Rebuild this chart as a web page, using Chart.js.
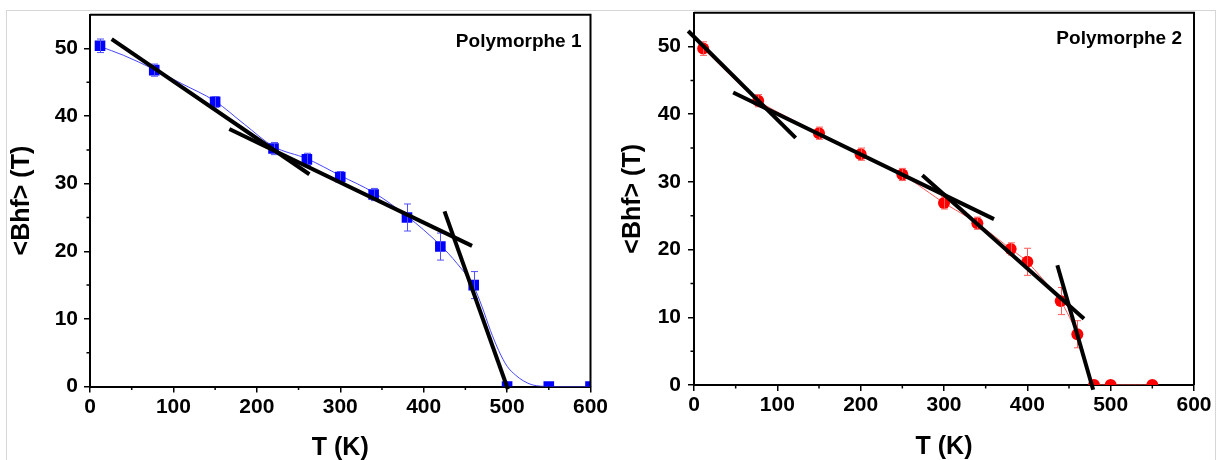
<!DOCTYPE html>
<html><head><meta charset="utf-8">
<script src="https://cdn.jsdelivr.net/npm/chart.js@4.4.1/dist/chart.umd.min.js"></script>
<style>
html,body{margin:0;padding:0;background:#fff;overflow:hidden;width:1220px;height:460px;}
#frame{position:absolute;left:6px;top:10px;width:1208px;height:480px;border:1px solid #d6d6d6;}
.wrap{position:absolute;top:0;width:610px;height:470px;}
#w1{left:0}
#w2{left:610px}
canvas{display:block}
</style></head><body>
<div id="frame"></div>
<div class="wrap" id="w1"><canvas id="c1" width="610" height="470"></canvas></div>
<div class="wrap" id="w2"><canvas id="c2" width="610" height="470"></canvas></div>
<script>
// ---- axis ticks ----
const xTicks = [0, 100, 200, 300, 400, 500, 600];
const xMinor = [50, 150, 250, 350, 450, 550];
const yTicks = [0, 10, 20, 30, 40, 50];
const yMinor = [5, 15, 25, 35, 45];

// ---- Polymorphe 1 ----
const p1T   = [12, 77, 150, 220, 260, 300, 340, 380, 420, 460, 500, 550, 600];
const p1B   = [50.4, 46.8, 42.1, 35.2, 33.6, 31.0, 28.4, 25.0, 20.7, 15.0, 0, 0, 0];
const p1Err = [1.0, 0.9, 0.8, 0.9, 0.9, 0.8, 0.9, 2.0, 2.0, 2.0, 0, 0, 0];
const fit1T = [12, 40, 77, 110, 150, 185, 220, 260, 300, 340, 380, 420, 440, 460, 470, 480, 490, 500, 510, 520, 530, 540, 550, 600];
const fit1B = [50.3, 49.0, 46.9, 44.8, 42.2, 38.8, 35.5, 33.7, 31.2, 28.7, 25.2, 20.9, 18.2, 14.8, 11.8, 8.3, 5.3, 3.0, 1.7, 0.8, 0.25, 0.05, 0, 0];
const tan1 = [[[26, 51.4], [263, 31.4]], [[167, 38.1], [458, 20.8]], [[425, 25.9], [501, -0.4]]];

// ---- Polymorphe 2 ----
const p2T   = [11, 77, 150, 200, 250, 300, 340, 380, 400, 440, 460, 480, 500, 550];
const p2B   = [49.7, 42.0, 37.2, 34.1, 31.1, 26.9, 23.9, 20.1, 18.2, 12.4, 7.5, 0, 0, 0];
const p2Err = [1.0, 0.9, 0.9, 0.9, 0.9, 0.9, 0.9, 0.9, 2.0, 2.0, 2.0, 0, 0, 0];
const tan2 = [[[-7, 52.3], [122, 36.5]], [[47, 43.2], [360, 24.5]], [[274, 31.0], [468, 9.8]], [[436, 17.7], [479, -0.7]]];

const FONT = "'Liberation Sans', Arial, sans-serif";

function pts(xs, ys) { return xs.map((x, i) => ({x: x, y: ys[i]})); }

function makeChart(canvas, cfg) {
  const tanSets = cfg.tangents.map(seg => ({
    data: seg.map(p => ({x: p[0], y: p[1]})),
    showLine: true, borderColor: '#000', borderWidth: 4, pointRadius: 0,
    borderCapStyle: 'butt', clip: false
  }));
  const pointIndex = tanSets.length;
  const datasets = tanSets.concat([cfg.points]).concat(cfg.fit ? [cfg.fit] : []);

  const plugin = {
    id: 'deco',
    afterDatasetDraw(chart, args) {
      if (args.index !== pointIndex) return;
      const ctx = chart.ctx, xs = chart.scales.x, ys = chart.scales.y;
      ctx.save();
      ctx.strokeStyle = cfg.errColor; ctx.lineWidth = 1;
      cfg.errX.forEach((t, i) => {
        const e = cfg.errV[i]; if (!e) return;
        const px = Math.round(xs.getPixelForValue(t)) + 0.5;
        const y1 = ys.getPixelForValue(cfg.errY[i] - e), y2 = ys.getPixelForValue(cfg.errY[i] + e);
        ctx.beginPath();
        ctx.moveTo(px, y1); ctx.lineTo(px, y2);
        ctx.moveTo(px - 3.5, y1); ctx.lineTo(px + 3.5, y1);
        ctx.moveTo(px - 3.5, y2); ctx.lineTo(px + 3.5, y2);
        ctx.stroke();
      });
      ctx.restore();
    },
    afterDraw(chart) {
      const ctx = chart.ctx, a = chart.chartArea, xs = chart.scales.x, ys = chart.scales.y;
      ctx.save();
      ctx.strokeStyle = '#000'; ctx.lineWidth = 2;
      ctx.beginPath();
      ctx.moveTo(a.left, a.top); ctx.lineTo(a.right, a.top); ctx.lineTo(a.right, a.bottom);
      ctx.stroke();
      ctx.lineWidth = 1.5;
      ctx.beginPath();
      xMinor.forEach(v => { const p = xs.getPixelForValue(v); ctx.moveTo(p, a.bottom); ctx.lineTo(p, a.bottom + 3.5); });
      yMinor.forEach(v => { const p = ys.getPixelForValue(v); ctx.moveTo(a.left, p); ctx.lineTo(a.left - 3.5, p); });
      ctx.stroke();
      ctx.fillStyle = '#000';
      ctx.font = 'bold 19px ' + FONT;
      ctx.textAlign = 'right'; ctx.textBaseline = 'alphabetic';
      ctx.fillText(cfg.label, a.right - cfg.labelDx, cfg.labelY);
      ctx.restore();
    }
  };

  return new Chart(canvas, {
    type: 'scatter',
    data: {datasets: datasets},
    options: {
      responsive: false, animation: false, devicePixelRatio: 1,
      layout: {padding: {top: cfg.padTop, right: cfg.padRight, left: 0, bottom: 0}},
      plugins: {legend: {display: false}, tooltip: {enabled: false}},
      scales: {
        x: {
          type: 'linear', min: 0, max: 600,
          afterBuildTicks: s => { s.ticks = xTicks.map(v => ({value: v})); },
          afterFit: s => { s.height = cfg.xAxisH; s.paddingLeft = 0; s.paddingRight = 0; s.paddingTop = 0; s.paddingBottom = 0; },
          grid: {drawOnChartArea: false, drawTicks: true, tickLength: 6, color: '#000', lineWidth: 1.5},
          border: {display: true, color: '#000', width: 2},
          ticks: {color: '#000', font: {family: FONT, size: 21, weight: 'bold'}, padding: 2, maxRotation: 0},
          title: {display: true, text: 'T (K)', color: '#000', font: {family: FONT, size: 25, weight: 'bold'}, padding: {top: 0, bottom: cfg.xTitlePad}}
        },
        y: {
          type: 'linear', min: 0, max: 55,
          afterBuildTicks: s => { s.ticks = yTicks.map(v => ({value: v})); },
          afterFit: s => { s.width = cfg.yAxisW; s.paddingTop = 0; s.paddingBottom = 0; s.paddingLeft = 0; s.paddingRight = 0; },
          grid: {drawOnChartArea: false, drawTicks: true, tickLength: 6, color: '#000', lineWidth: 1.5},
          border: {display: true, color: '#000', width: 2},
          ticks: {color: '#000', font: {family: FONT, size: 21, weight: 'bold'}, padding: cfg.yTickPad},
          title: {display: true, text: '<Bhf> (T)', color: '#000', font: {family: FONT, size: 25, weight: 'bold'}, padding: {top: cfg.yTitlePad, bottom: 0}}
        }
      }
    },
    plugins: [plugin]
  });
}

makeChart(document.getElementById('c1'), {
  tangents: tan1,
  points: {data: pts(p1T, p1B), showLine: false, pointStyle: 'rect', pointRadius: 7.5,
           pointBackgroundColor: 'rgb(0,0,255)', pointBorderColor: 'rgb(0,0,255)', pointBorderWidth: 0},
  fit: {data: pts(fit1T, fit1B), showLine: true, borderColor: 'rgb(70,70,255)', borderWidth: 1,
        pointRadius: 0, cubicInterpolationMode: 'monotone'},
  errX: p1T, errY: p1B, errV: p1Err, errColor: 'rgb(80,80,255)',
  label: 'Polymorphe 1', labelDx: 9, labelY: 46.5,
  padTop: 14.7, padRight: 19.5, xAxisH: 83.5, yAxisW: 90,
  xTitlePad: 7, yTitlePad: 7.5, yTickPad: 6
});

makeChart(document.getElementById('c2'), {
  tangents: tan2,
  points: {data: pts(p2T, p2B), showLine: true, borderColor: 'rgb(255,90,90)', borderWidth: 1,
           tension: 0.2, pointStyle: 'circle', pointRadius: 6,
           pointBackgroundColor: 'rgb(255,0,0)', pointBorderColor: 'rgb(255,0,0)', pointBorderWidth: 0},
  fit: null,
  errX: p2T, errY: p2B, errV: p2Err, errColor: 'rgb(255,90,90)',
  label: 'Polymorphe 2', labelDx: 12, labelY: 43.5,
  padTop: 12.7, padRight: 26, xAxisH: 85, yAxisW: 84,
  xTitlePad: 8.3, yTitlePad: 8, yTickPad: 7
});
</script>
</body></html>
